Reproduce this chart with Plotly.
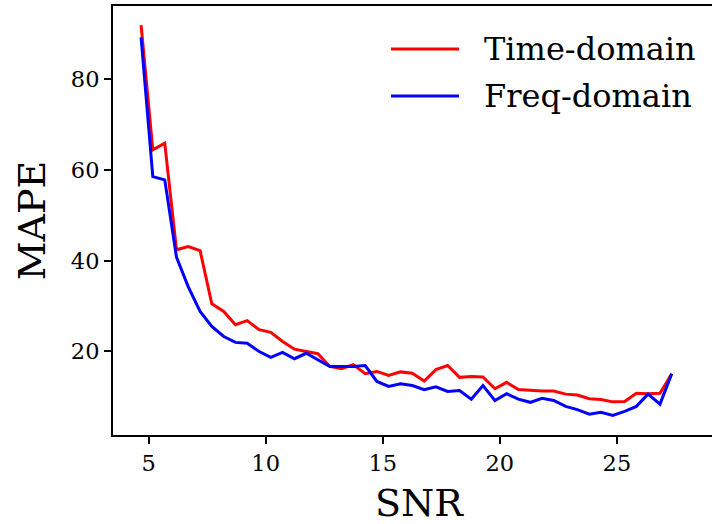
import plotly.graph_objects as go

snr = [4.68, 5.18, 5.69, 6.19, 6.69, 7.20, 7.70, 8.21, 8.71, 9.21, 9.72, 10.22,
       10.72, 11.23, 11.73, 12.23, 12.74, 13.24, 13.74, 14.25, 14.75, 15.25,
       15.76, 16.26, 16.77, 17.27, 17.77, 18.28, 18.78, 19.28, 19.79, 20.29,
       20.79, 21.30, 21.80, 22.30, 22.81, 23.31, 23.82, 24.32, 24.82, 25.33,
       25.83, 26.33, 26.84, 27.34]

time_domain = [91.9, 64.4, 65.9, 42.4, 43.1, 42.2, 30.5, 28.8, 25.9, 26.8, 24.8, 24.2,
               22.2, 20.5, 20.0, 19.5, 16.7, 16.2, 17.1, 15.1, 15.6, 14.7, 15.5, 15.2,
               13.5, 16.0, 16.9, 14.3, 14.5, 14.4, 11.8, 13.2, 11.6, 11.4, 11.3, 11.3,
               10.6, 10.4, 9.6, 9.4, 8.9, 9.0, 10.8, 10.7, 10.8, 15.1]

freq_domain = [89.2, 58.5, 57.8, 40.8, 34.3, 28.8, 25.5, 23.3, 22.0, 21.8, 20.0, 18.7,
               19.8, 18.4, 19.6, 18.2, 16.7, 16.7, 16.7, 16.9, 13.4, 12.3, 12.9, 12.5,
               11.6, 12.2, 11.2, 11.4, 9.5, 12.5, 9.2, 10.7, 9.5, 8.8, 9.7, 9.2,
               7.9, 7.2, 6.2, 6.6, 5.9, 6.8, 7.9, 10.6, 8.4, 15.1]

x_ticks = [5, 10, 15, 20, 25]
y_ticks = [20, 40, 60, 80]
series_names = ["Time-domain", "Freq-domain"]
colors = ["#ff0000", "#0000ff"]

FONT = "DejaVu Serif"

fig = go.Figure()
for name, vals, col in zip(series_names, [time_domain, freq_domain], colors):
    fig.add_trace(go.Scatter(x=snr, y=vals, mode="lines", name=name,
                             line=dict(color=col, width=3), showlegend=False))

W, H = 712, 524
L, R, T, B = 113, 0, 6, 89

fig.update_layout(
    width=W, height=H,
    margin=dict(l=L, r=R, t=T, b=B),
    paper_bgcolor="white", plot_bgcolor="white",
    font=dict(family=FONT, color="black"),
    xaxis=dict(range=[3.48, 29.06], tickvals=x_ticks, ticks="outside", ticklen=7,
               tickwidth=1.5, tickcolor="black", showline=True, linecolor="black",
               linewidth=2, mirror=True, showgrid=False, zeroline=False,
               tickfont=dict(size=22.5, family=FONT)),
    yaxis=dict(range=[1.6, 96.1], tickvals=y_ticks, ticks="outside", ticklen=7,
               tickwidth=1.5, tickcolor="black", showline=True, linecolor="black",
               linewidth=2, mirror=False, showgrid=False, zeroline=False,
               tickfont=dict(size=22.5, family=FONT),
               title=dict(text="MAPE", font=dict(size=38, family=FONT), standoff=14)),
)

pw = W - L - R
ph = H - T - B
def px(xp):
    return (xp - L) / pw
def py(yp):
    return 1 - (yp - T) / ph

# x-axis title (axes extends slightly past the cropped right edge in the original)
fig.add_annotation(xref="paper", yref="paper", x=px(420), y=py(503),
                   text="SNR", showarrow=False, xanchor="center", yanchor="middle",
                   font=dict(size=38, family=FONT, color="black"))

# manual legend (matplotlib style)
for i, (name, col) in enumerate(zip(series_names, colors)):
    yp = 49 + i * 47
    fig.add_shape(type="line", xref="paper", yref="paper",
                  x0=px(391), x1=px(459), y0=py(yp), y1=py(yp),
                  line=dict(color=col, width=3))
    fig.add_annotation(xref="paper", yref="paper", x=px(482), y=py(yp),
                       text=name, showarrow=False, xanchor="left", yanchor="middle",
                       font=dict(size=32, family=FONT, color="black"))

fig.write_html("out.html")
